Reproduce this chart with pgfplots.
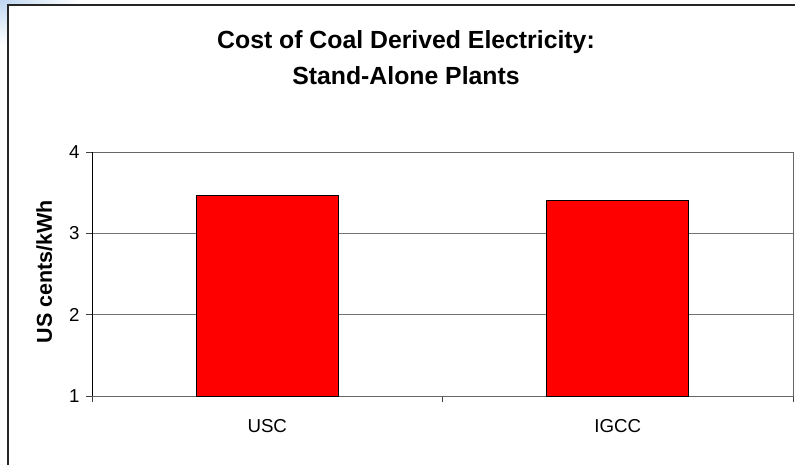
\documentclass[border=0pt]{standalone}
\usepackage{pgfplots}
\pgfplotsset{compat=1.18}
\usepackage{fontspec}
\setmainfont{Liberation Sans}

\definecolor{barred}{RGB}{255,0,0}
\definecolor{slideblue}{RGB}{190,214,240}

\begin{document}
\begin{tikzpicture}[x=1pt,y=1pt]
  \useasboundingbox (0,0) rectangle (795,464);

  % slide background showing at the corner
  \begin{scope}
    \clip (0,459) rectangle (795,464) (0,0) rectangle (8,464);
    \shade[inner color=slideblue, outer color=white] (0,464) ellipse (80 and 45);
  \end{scope}

  % chart frame
  \draw[line width=1.6pt, black!85] (8,-10) -- (8,459) -- (810,459);

  % title
  \node[anchor=base, font=\fontsize{24.8}{28}\selectfont\bfseries] at (406,415) {Cost of Coal Derived Electricity:};
  \node[anchor=base, font=\fontsize{24.8}{28}\selectfont\bfseries] at (406,379) {Stand-Alone Plants};

  \begin{axis}[
      at={(92pt,68pt)}, anchor=south west,
      width=701pt, height=244pt, scale only axis,
      xmin=-0.5, xmax=1.5,
      ymin=1, ymax=4,
      xtick={0,1},
      xticklabels={USC, IGCC},
      minor xtick={-0.5,0.5,1.5},
      major x tick style={draw=none},
      ytick={1,2,3,4},
      tick align=outside,
      major tick length=6pt,
      minor tick length=6pt,
      tick style={black!75, line width=0.8pt},
      xtick pos=bottom, ytick pos=left,
      ymajorgrids,
      grid style={black!55, line width=0.8pt},
      axis line style={black!60, line width=0.8pt},
      /pgf/number format/assume math mode=true,
      ticklabel style={font=\fontsize{18.7}{22}\selectfont},
      xticklabel style={yshift=-14pt},
      yticklabel style={xshift=-3pt},
      ylabel={US cents/kWh},
      ylabel style={at={(axis description cs:-0.068,0.51)}, anchor=center,
        font=\fontsize{21.5}{24}\selectfont\bfseries},
    ]
    \addplot[ybar, bar width=0.405, fill=barred, draw=black, line width=0.9pt]
      coordinates {(0,3.46) (1,3.40)};
    \draw[black, line width=0.9pt] (axis cs:-0.5,1) -- (axis cs:-0.5,4);
  \end{axis}
\end{tikzpicture}
\end{document}
